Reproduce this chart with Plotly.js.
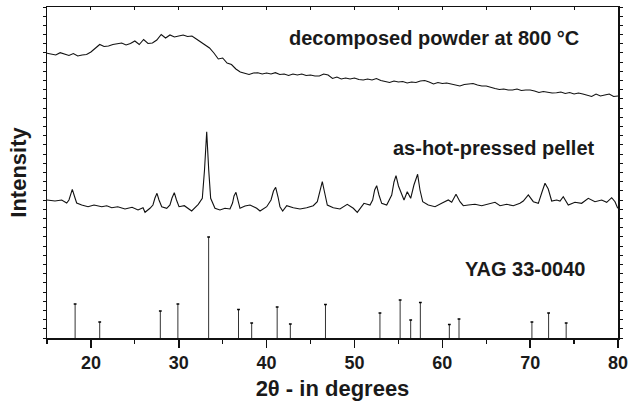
<!DOCTYPE html>
<html>
<head>
<meta charset="utf-8">
<script src="https://cdn.plot.ly/plotly-3.0.1.min.js"></script>
<style>html,body{margin:0;padding:0;background:#fff;}#chart{width:641px;height:406px;}</style>
</head>
<body>
<div id="chart"></div>
<script>
// Top curve: decomposed powder at 800 °C (0.5° steps from 15 to 80)
const powderStart = 15;
const powderStep = 0.5;
const powderY = [
284.7,283.5,283,285.3,284,282.5,284.5,282,283,283.5,
286,290,293.5,291.5,292,293.5,294,295,293,294.5,
297,293.5,298.5,294.5,295,298,303.5,300,303,301,
302,303,301.5,302,299,296,293,290,285,279,
280,275,273.5,269,266,265,263.5,265,265.3,264,
265,264,265.3,263.5,264,262.5,264,263,264,262.5,
263,262,262,264,263,259.5,261,259,260,259,
260,258.5,258,259,258,259.5,257.5,256.5,255.5,257,
256,256.5,255,256,255.5,257,257.5,256,254,255.5,
254.5,255,254,253,252,253.5,254,254.5,253,252,
252,250.5,249.5,248.5,249,248,248,249,247.5,248,
248,247,245.5,246.5,246,245,245.3,246,244.5,245.5,
244,245,244,243,241.5,244,242,243,244,241.5,
242
];
const powderX = powderY.map((_, i) => powderStart + i * powderStep);

// Middle curve: as-hot-pressed pellet
const pelletX = [
15.0,15.91,16.67,17.24,17.5,17.88,18.19,18.38,18.95,19.67,
20.35,21.23,21.8,22.37,23.05,23.88,24.68,25.36,25.93,26.16,
26.72,27.06,27.29,27.52,27.75,28.06,28.63,29.0,29.23,29.49,
29.74,30.03,30.63,31.47,32.22,32.68,32.93,33.18,33.41,33.63,
34.12,34.69,35.26,35.83,36.12,36.29,36.51,36.74,36.97,37.54,
38.11,38.87,39.25,40.01,40.5,40.78,41.03,41.3,41.52,41.83,
42.29,43.04,43.8,44.56,45.31,45.77,46.08,46.34,46.59,46.91,
47.59,48.35,49.18,49.87,50.32,51.08,51.77,52.07,52.3,52.53,
52.79,53.1,53.67,54.24,54.5,54.73,55.01,55.26,55.64,56.01,
56.4,56.77,57.19,57.46,57.77,58.4,59.17,59.93,60.68,61.07,
61.56,62.01,62.39,62.96,63.72,64.48,65.23,66.0,66.57,67.33,
68.08,68.84,69.22,69.79,70.36,70.93,71.35,71.69,72.06,72.45,
73.02,73.4,73.77,74.34,75.1,75.86,76.62,77.38,78.14,78.71,
79.28,79.66,79.97
];
const pelletY = [
138,137,138,135,138,148.7,140,135,133,131.3,
133,131.3,132.3,130.3,131.3,129,130.7,128,130.3,125.7,
129.7,133,140,144.7,138,131.3,129.7,133,140,145.3,
138,131.3,132.3,127,133.7,139.7,168,206.3,168,139.7,
129.7,128,129.7,129,135,142,145.7,138,129.7,132,
133,129.7,127,131.3,138,147,150.7,141,131.3,127,
132.3,130.3,129,130.3,132.3,136.3,148,156.3,146,133,
130.3,129,133.7,129.7,125.7,134.7,133,138,148,152.3,
143,134.7,133,143,156,162.3,152,146.3,138,146.3,
139.7,153,163.7,148,136.3,133,131.3,134.7,138,135.7,
143.7,136.3,132.3,133,133.7,132.3,133.7,135.7,132.3,133.7,
132.3,134.7,137,143,136.3,134.7,146,154.7,149,137,
138,137,141.3,133,135.7,134.7,139.7,136.3,138,135.7,
140.3,136.3,129.7
];

// YAG 33-0040 reference lines
const yagPos = [18.2,21.0,27.9,29.9,33.4,36.8,38.3,41.2,42.7,46.7,52.9,55.2,56.4,57.5,60.8,61.9,70.2,72.1,74.1];
const yagInt = [34,16,27,34,101,28.5,15,31,14,33.5,25,38,18,35.5,13.5,19,16,25,15];

const labels = ["decomposed powder at 800 °C", "as-hot-pressed pellet", "YAG 33-0040"];
const xTickVals = [20,30,40,50,60,70,80];

const stickX = [], stickY = [];
yagPos.forEach((p, i) => { stickX.push(p, p, null); stickY.push(0, yagInt[i], null); });

const traces = [
  {x: powderX, y: powderY, type: 'scatter', mode: 'lines', line: {color: '#111', width: 1.1}, hoverinfo: 'skip'},
  {x: pelletX, y: pelletY, type: 'scatter', mode: 'lines', line: {color: '#111', width: 1.1}, hoverinfo: 'skip'},
  {x: stickX, y: stickY, type: 'scatter', mode: 'lines', line: {color: '#333', width: 1}, hoverinfo: 'skip'},
  {x: yagPos, y: yagInt, type: 'scatter', mode: 'markers', marker: {symbol: 'line-ew', size: 2, line: {color: '#000', width: 1.5}}, hoverinfo: 'skip'},
  {x: [15, 80], y: [0, 0], xaxis: 'x2', type: 'scatter', mode: 'lines', line: {width: 0}, hoverinfo: 'skip', showlegend: false}
];

const fontFam = '"Liberation Sans", Arial, Helvetica, sans-serif';
const labelFont = {size: 20, family: fontFam, weight: 'bold', color: '#1a1a1a'};
const layout = {
  width: 641, height: 406,
  margin: {l: 47, r: 23, t: 7, b: 68},
  showlegend: false,
  paper_bgcolor: '#fff', plot_bgcolor: '#fff',
  font: {family: fontFam, color: '#111'},
  xaxis: {
    range: [15, 80], tickvals: xTickVals, ticks: 'outside', ticklen: 8, tickwidth: 1.5, tickcolor: '#111',
    showline: true, linecolor: '#111', linewidth: 1.5, mirror: true, showgrid: false, zeroline: false,
    tickfont: {size: 18, family: fontFam, weight: 'bold', color: '#1a1a1a'},
    minor: {dtick: 5, tick0: 15, ticks: 'outside', ticklen: 4, tickwidth: 1.2, tickcolor: '#111', showgrid: false},
    title: {text: '2θ - in degrees', font: {size: 22, family: fontFam, weight: 'bold', color: '#1a1a1a'}, standoff: 8}
  },
  xaxis2: {
    overlaying: 'x', side: 'top', range: [15, 80], dtick: 5, tick0: 15, ticks: 'inside', ticklen: 3, tickwidth: 1,
    tickcolor: '#111', showticklabels: false, showgrid: false, zeroline: false, showline: false
  },
  yaxis: {
    range: [0, 331], tick0: 0, dtick: 331 / 36, ticks: 'outside', ticklen: 3, tickwidth: 1, tickcolor: '#111',
    showticklabels: false, showline: true, linecolor: '#111', linewidth: 1.5, mirror: 'ticks',
    showgrid: false, zeroline: false,
    title: {text: 'Intensity', font: {size: 22, family: fontFam, weight: 'bold', color: '#1a1a1a'}, standoff: 10}
  },
  annotations: [
    {x: 75.8, y: 300, xref: 'x', yref: 'y', text: labels[0], showarrow: false, xanchor: 'right', yanchor: 'middle', font: labelFont},
    {x: 77.6, y: 190, xref: 'x', yref: 'y', text: labels[1], showarrow: false, xanchor: 'right', yanchor: 'middle', font: labelFont},
    {x: 76.5, y: 69, xref: 'x', yref: 'y', text: labels[2], showarrow: false, xanchor: 'right', yanchor: 'middle', font: labelFont}
  ]
};

Plotly.newPlot('chart', traces, layout, {staticPlot: true, displayModeBar: false});
</script>
</body>
</html>
